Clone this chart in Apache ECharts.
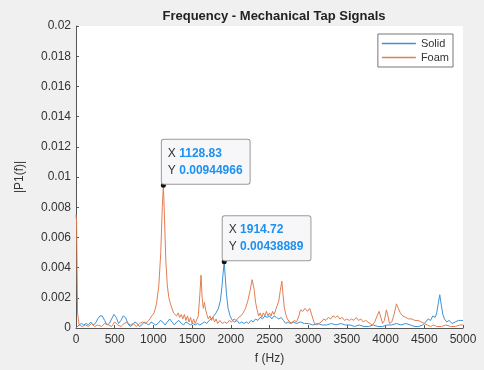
<!DOCTYPE html>
<html>
<head>
<meta charset="utf-8">
<script src="https://cdn.jsdelivr.net/npm/echarts@6/dist/echarts.min.js"></script>
<style>
	html, body { margin: 0; padding: 0; background: #f0f0f0; }
	#chart { width: 484px; height: 370px; }
</style>
</head>
<body>
<div id="chart"></div>
<script type="text/javascript">
	// single-sided spectrum |P1(f)|, [f (Hz), amplitude]
	var solidSpectrum = [
		[0,0.0000],[40,0.0002],[70,0.0003],[100,0.0002],[130,0.0003],[160,0.0002],[190,0.0004],[220,0.0002],
		[250,0.0003],[280,0.0006],[310,0.0008],[340,0.0008],[370,0.0005],[400,0.0002],[430,0.0003],[460,0.0006],
		[490,0.0009],[520,0.0007],[550,0.0003],[580,0.0005],[610,0.0008],[640,0.0007],[670,0.0003],[700,0.0001],
		[730,0.0002],[760,0.0004],[790,0.0003],[820,0.0001],[850,0.0002],[880,0.0004],[910,0.0003],[940,0.0002],
		[970,0.0004],[1000,0.0003],[1030,0.0002],[1060,0.0003],[1090,0.0005],[1120,0.0004],[1150,0.0002],[1180,0.0004],
		[1210,0.0006],[1240,0.0004],[1270,0.0002],[1300,0.0004],[1330,0.0005],[1360,0.0003],[1390,0.0002],[1420,0.0004],
		[1450,0.0003],[1480,0.0002],[1510,0.0003],[1540,0.0002],[1570,0.0003],[1600,0.0002],[1630,0.0003],[1660,0.0004],
		[1690,0.0003],[1720,0.0005],[1750,0.0006],[1780,0.0008],[1810,0.0010],[1840,0.0013],[1865,0.0018],[1885,0.0027],
		[1900,0.0036],[1914.72,0.00438889],[1928,0.0034],[1945,0.0022],[1965,0.0013],[1990,0.0008],[2020,0.0005],[2050,0.0004],
		[2080,0.0005],[2110,0.0003],[2140,0.0004],[2170,0.0003],[2200,0.0004],[2230,0.0003],[2260,0.0005],[2290,0.0004],
		[2320,0.0006],[2350,0.0005],[2380,0.0007],[2410,0.0006],[2440,0.0008],[2470,0.0007],[2500,0.0008],[2530,0.0006],
		[2560,0.0008],[2590,0.0007],[2620,0.0006],[2650,0.0007],[2680,0.0005],[2710,0.0003],[2740,0.0004],[2770,0.0003],
		[2800,0.0004],[2850,0.0003],[2900,0.0004],[2950,0.0003],[3000,0.0003],[3060,0.0002],[3120,0.0003],[3180,0.0002],
		[3240,0.0002],[3300,0.0003],[3360,0.0002],[3420,0.0003],[3480,0.0002],[3540,0.0002],[3600,0.0001],[3660,0.0002],
		[3720,0.0001],[3780,0.0001],[3840,0.0002],[3900,0.0001],[3960,0.0001],[4020,0.0002],[4080,0.0002],[4140,0.0003],
		[4200,0.0002],[4260,0.0003],[4320,0.0002],[4380,0.0001],[4430,0.0001],[4480,0.0002],[4520,0.0004],[4550,0.0006],
		[4580,0.0005],[4610,0.0008],[4640,0.0007],[4660,0.0010],[4680,0.0016],[4700,0.0022],[4720,0.0015],[4740,0.0009],
		[4760,0.0006],[4790,0.0004],[4820,0.0005],[4860,0.0003],[4900,0.0004],[4940,0.0005],[4970,0.0005],[5000,0.0005]
	];
	var foamSpectrum = [
		[0,0.0075],[8,0.0070],[20,0.0010],[40,0.0002],[80,0.0001],[120,0.0002],[160,0.0001],[200,0.0003],
		[240,0.0001],[280,0.0002],[330,0.0001],[370,0.0003],[420,0.0002],[460,0.0001],[500,0.0004],[540,0.0002],
		[580,0.0001],[620,0.0003],[660,0.0004],[700,0.0002],[740,0.0003],[780,0.0001],[820,0.0003],[860,0.0004],
		[900,0.0003],[940,0.0005],[980,0.0008],[1010,0.0010],[1040,0.0016],[1070,0.0028],[1095,0.0050],[1115,0.0080],
		[1128.83,0.00944966],[1140,0.0078],[1160,0.0045],[1180,0.0028],[1200,0.0020],[1220,0.0016],[1240,0.0013],[1260,0.0010],
		[1280,0.0011],[1300,0.0008],[1320,0.0010],[1340,0.0007],[1360,0.0009],[1380,0.0006],[1400,0.0009],[1420,0.0005],
		[1440,0.0008],[1460,0.0004],[1480,0.0007],[1500,0.0003],[1520,0.0006],[1540,0.0003],[1560,0.0004],[1580,0.0008],
		[1600,0.0022],[1615,0.0035],[1630,0.0020],[1645,0.0013],[1660,0.0017],[1675,0.0012],[1690,0.0009],[1710,0.0006],
		[1730,0.0008],[1750,0.0005],[1770,0.0007],[1790,0.0004],[1810,0.0006],[1830,0.0003],[1860,0.0005],[1890,0.0003],
		[1920,0.0004],[1950,0.0003],[1980,0.0005],[2010,0.0004],[2040,0.0006],[2070,0.0005],[2100,0.0007],[2130,0.0008],
		[2160,0.0010],[2190,0.0013],[2220,0.0018],[2250,0.0025],[2275,0.0032],[2300,0.0026],[2320,0.0017],[2340,0.0012],
		[2360,0.0008],[2380,0.0010],[2400,0.0007],[2420,0.0010],[2440,0.0008],[2460,0.0011],[2480,0.0008],[2500,0.0010],
		[2520,0.0008],[2540,0.0011],[2560,0.0009],[2580,0.0012],[2600,0.0013],[2620,0.0018],[2640,0.0025],[2660,0.0031],
		[2675,0.0022],[2690,0.0014],[2710,0.0009],[2730,0.0006],[2760,0.0004],[2790,0.0003],[2820,0.0005],[2850,0.0004],
		[2880,0.0008],[2900,0.0012],[2930,0.0011],[2960,0.0013],[2990,0.0011],[3020,0.0013],[3050,0.0008],[3080,0.0003],
		[3110,0.0002],[3140,0.0003],[3170,0.0004],[3200,0.0006],[3230,0.0005],[3260,0.0007],[3290,0.0006],[3320,0.0008],
		[3350,0.0007],[3380,0.0008],[3410,0.0006],[3440,0.0007],[3470,0.0005],[3500,0.0006],[3530,0.0005],[3560,0.0006],
		[3590,0.0005],[3620,0.0007],[3650,0.0005],[3680,0.0006],[3710,0.0004],[3740,0.0005],[3770,0.0004],[3800,0.0003],
		[3830,0.0002],[3860,0.0004],[3890,0.0008],[3915,0.0011],[3940,0.0007],[3960,0.0003],[3985,0.0005],[4010,0.0012],
		[4030,0.0008],[4050,0.0003],[4080,0.0004],[4110,0.0009],[4140,0.0016],[4165,0.0013],[4190,0.0010],[4220,0.0008],
		[4260,0.0007],[4300,0.0006],[4340,0.0006],[4380,0.0005],[4420,0.0005],[4460,0.0004],[4500,0.0003],[4540,0.0002],
		[4580,0.0001],[4620,0.0002],[4660,0.0001],[4720,0.0001],[4780,0.0002],[4840,0.0001],[4900,0.0001],[4960,0.0002],
		[5000,0.0002]
	];
	// data tips shown on the plot
	var foamTip = [1128.83, 0.00944966];
	var solidTip = [1914.72, 0.00438889];
	var seriesNames = ['Solid', 'Foam'];
	var yTickValues = [0, 0.002, 0.004, 0.006, 0.008, 0.01, 0.012, 0.014, 0.016, 0.018, 0.02];

	var font = 'Liberation Sans, Arial, sans-serif';

	function tipPoint(p) {
		return {
			coord: p,
			value: p[1],
			label: {
				formatter: '{k|X} {v|' + p[0] + '}\n{k|Y} {v|' + p[1] + '}'
			}
		};
	}

	var tipStyle = {
		symbol: 'circle',
		symbolSize: 5,
		itemStyle: { color: '#111' },
		label: {
			show: true,
			position: [1, 1],
			align: 'left',
			verticalAlign: 'bottom',
			backgroundColor: '#f7f7fa',
			borderColor: '#9a9a9a',
			borderWidth: 1,
			borderRadius: 2,
			padding: [5, 7, 5, 6],
			lineHeight: 17,
			fontFamily: font,
			rich: {
				k: { color: '#333', fontSize: 12, fontFamily: font },
				v: { color: '#1e90f0', fontSize: 12, fontWeight: 'bold', fontFamily: font }
			}
		}
	};

	var chart = echarts.init(document.getElementById('chart'));
	var option = {
		backgroundColor: '#f0f0f0',
		animation: false,
		title: {
			text: 'Frequency - Mechanical Tap Signals',
			left: 269,
			textAlign: 'center',
			top: 5,
			textStyle: { fontFamily: font, fontSize: 13, fontWeight: 'bold', color: '#222' }
		},
		legend: {
			data: seriesNames,
			orient: 'vertical',
			right: 31,
			top: 34,
			align: 'left',
			backgroundColor: '#fff',
			borderColor: '#777',
			borderWidth: 1,
			padding: [4, 4, 4, 4],
			itemGap: 3,
			itemWidth: 34,
			itemHeight: 1.5,
			icon: 'rect',
			textStyle: { fontFamily: font, fontSize: 11, color: '#333', padding: [0, 0, 0, 0] }
		},
		grid: {
			left: 76, right: 21, top: 26, bottom: 41,
			show: true, backgroundColor: '#fff', borderWidth: 0
		},
		xAxis: {
			type: 'value',
			min: 0, max: 5000, interval: 500,
			name: 'f (Hz)',
			nameLocation: 'middle',
			nameGap: 25,
			nameTextStyle: { fontFamily: font, fontSize: 12, color: '#333' },
			axisLine: { lineStyle: { color: '#555' } },
			axisTick: { inside: true, length: 3, lineStyle: { color: '#555' } },
			axisLabel: {
				fontFamily: font, fontSize: 12, color: '#333', margin: 6,
				formatter: function (v) { return String(v); }
			},
			splitLine: { show: false }
		},
		yAxis: {
			type: 'value',
			min: 0, max: 0.02, interval: 0.002,
			name: '|P1(f)|',
			nameLocation: 'middle',
			nameGap: 50,
			nameTextStyle: { fontFamily: font, fontSize: 12, color: '#333' },
			axisLine: { show: true, lineStyle: { color: '#555' } },
			axisTick: { show: true, inside: true, length: 3, lineStyle: { color: '#555' } },
			axisLabel: {
				fontFamily: font, fontSize: 12, color: '#333', margin: 5,
				formatter: function (v) {
					for (var i = 0; i < yTickValues.length; i++) {
						if (Math.abs(yTickValues[i] - v) < 1e-9) return String(yTickValues[i]);
					}
					return '';
				}
			},
			splitLine: { show: false }
		},
		series: [
			{
				name: seriesNames[0],
				type: 'line',
				data: solidSpectrum,
				showSymbol: false,
				symbol: 'none',
				lineStyle: { width: 1, color: '#3d93d6' },
				itemStyle: { color: '#3d93d6' },
				markPoint: echarts.util.merge({ data: [tipPoint(solidTip)] }, tipStyle, true),
				z: 2
			},
			{
				name: seriesNames[1],
				type: 'line',
				data: foamSpectrum,
				showSymbol: false,
				symbol: 'none',
				lineStyle: { width: 1, color: '#e47d52' },
				itemStyle: { color: '#e47d52' },
				markPoint: echarts.util.merge({ data: [tipPoint(foamTip)] }, tipStyle, true),
				z: 3
			}
		]
	};
	chart.setOption(option);
</script>
</body>
</html>
